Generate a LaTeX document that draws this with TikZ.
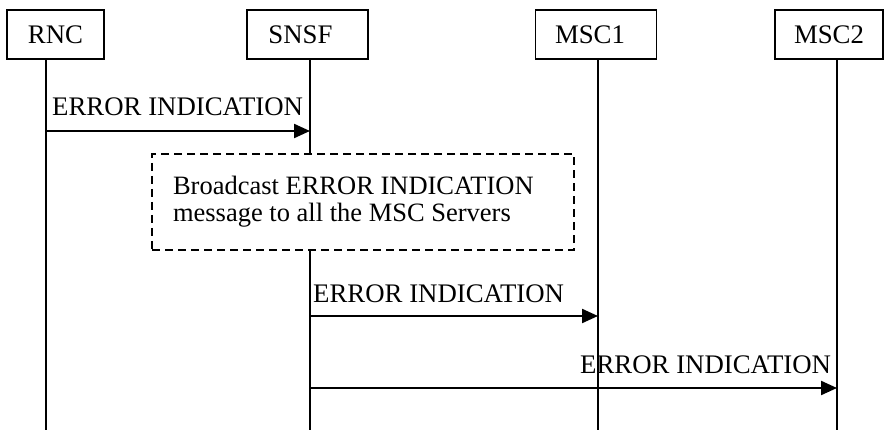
\documentclass[tikz,border=0pt]{standalone}
\usepackage{fontspec}
\setmainfont{Liberation Serif}
\usetikzlibrary{arrows.meta}
\newcommand\normalspaces{\spaceskip=6.625pt\relax\xspaceskip=6.625pt\relax}
\begin{document}
\begin{tikzpicture}[x=1pt,y=-1pt,
  txt/.style={font=\fontsize{26.8}{27}\selectfont},
  ent/.style={txt,draw,line width=1.5pt,minimum height=49pt,inner sep=0pt},
  life/.style={line width=1.6pt},
  msg/.style={line width=2.2pt,-{Triangle[length=16pt,width=14pt]}},
  lbl/.style={txt,anchor=base west,inner sep=0pt},
  note/.style={font=\fontsize{26.5}{27}\selectfont,draw,dash pattern=on 8pt off 5pt,line width=1.5pt,minimum width=422pt,minimum height=96pt,text width=380pt,align=left,inner xsep=21pt,inner ysep=0pt}
]
\useasboundingbox (0,0) rectangle (885,430);
% entities
\node[ent,minimum width=97pt]  (rnc)  at (55.5,34.5) {RNC};
\node[ent,minimum width=121pt] (snsf) at (307.5,34.5) {SNSF\hspace*{14pt}};
\node[ent,minimum width=121pt] (msc1) at (596,34.5) {MSC1\hspace*{12pt}};
\node[ent,minimum width=108pt] (msc2) at (829,34.5) {MSC2};
% lifeline ends
\coordinate (rncb)  at (46,430);
\coordinate (snsfb) at (310,430);
\coordinate (msc1b) at (598,430);
\coordinate (msc2b) at (837,430);
% note box
\node[note] (bc) at (363,202) {\normalspaces Broadcast ERROR INDICATION\\message to all the MSC Servers};
% lifelines
\draw[life] (rncb |- rnc.south) -- (rncb);
\draw[life] (snsfb |- snsf.south) -- (snsfb |- bc.north);
\draw[life] (snsfb |- bc.south) -- (snsfb);
\draw[life] (msc1b |- msc1.south) -- (msc1b);
\draw[life] (msc2b |- msc2.south) -- (msc2b);
% messages
\coordinate (m1s) at (46,131);  \coordinate (m1e) at (310,131);
\coordinate (m2s) at (310,316); \coordinate (m2e) at (598,316);
\coordinate (m3s) at (310,388); \coordinate (m3e) at (837,388);
\draw[msg] (m1s) -- (m1e);
\draw[msg] (m2s) -- (m2e);
\draw[msg] (m3s) -- (m3e);
\node[lbl] (l1) at (52,116) {ERROR INDICATION};
\node[lbl] (l2) at (313,302) {ERROR INDICATION};
\node[lbl] (l3) at (580,373) {ERROR INDICATION};
\end{tikzpicture}
\end{document}
